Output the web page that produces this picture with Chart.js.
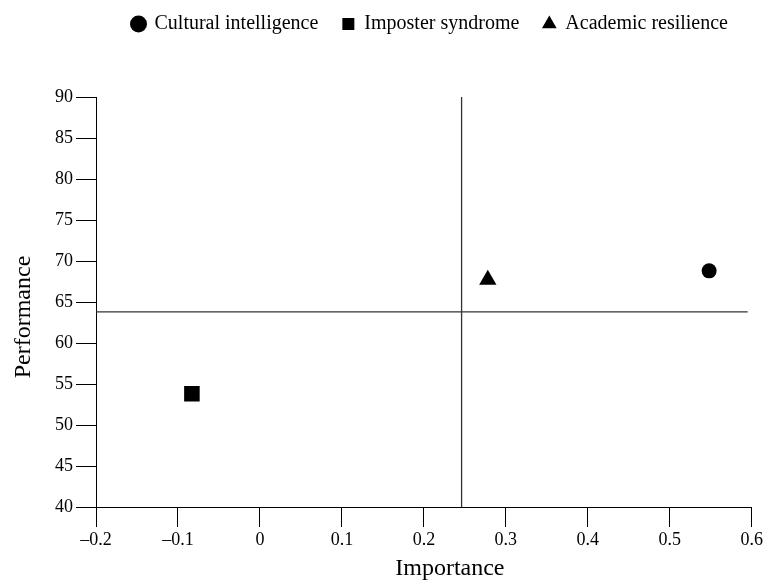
<!DOCTYPE html>
<html>
<head>
<meta charset="utf-8">
<script src="https://cdn.jsdelivr.net/npm/chart.js@4/dist/chart.umd.min.js"></script>
<style>
  html, body { margin: 0; padding: 0; background: #fff; }
  #wrap { width: 765px; height: 581px; }
</style>
</head>
<body>
<div id="wrap"><canvas id="chart"></canvas></div>
<script>
// series (importance, performance)
const seriesNames = ['Cultural intelligence', 'Imposter syndrome', 'Academic resilience'];
const importance = [0.548, -0.083, 0.278];
const performance = [68.8, 53.8, 67.7];
const markers = ['circle', 'rect', 'triangle'];
const markerSizes = [7.5, 11, 10];

// quadrant split lines
const meanImportance = 0.246;
const meanPerformance = 63.8;
const hlineEnd = 0.595;
const xTicks = [-0.2, -0.1, 0, 0.1, 0.2, 0.3, 0.4, 0.5, 0.6];
const yTicks = [40, 45, 50, 55, 60, 65, 70, 75, 80, 85, 90];
const xTitle = 'Importance';
const yTitle = 'Performance';

const FONT = "'Liberation Serif', 'DejaVu Serif', serif";

const datasets = seriesNames.map((name, i) => ({
    label: name,
    data: [{ x: importance[i], y: performance[i] }],
    pointStyle: markers[i],
    pointRadius: markerSizes[i],
    pointHoverRadius: markerSizes[i],
    backgroundColor: '#000',
    borderColor: '#000',
    borderWidth: 0,
}));

datasets.push({
    label: 'vline',
    data: [{ x: meanImportance, y: yTicks[0] }, { x: meanImportance, y: yTicks[yTicks.length - 1] }],
    showLine: true,
    pointRadius: 0,
    borderColor: '#333',
    borderWidth: 1.3,
});
datasets.push({
    label: 'hline',
    data: [{ x: xTicks[0], y: meanPerformance }, { x: hlineEnd, y: meanPerformance }],
    showLine: true,
    pointRadius: 0,
    borderColor: '#333',
    borderWidth: 1.3,
});

// push the plot down below the legend
const legendSpace = {
    id: 'legendSpace',
    beforeInit(chart) {
        const fit = chart.legend.fit;
        chart.legend.fit = function () {
            fit.bind(chart.legend)();
            this.height = 107;
        };
    }
};

// axis titles, placed a bit off-centre like the original
const axisTitles = {
    id: 'axisTitles',
    afterDraw(chart) {
        const { ctx, chartArea } = chart;
        ctx.save();
        ctx.fillStyle = '#000';
        ctx.font = '24px ' + FONT;
        ctx.textAlign = 'center';
        ctx.textBaseline = 'middle';
        ctx.fillText(xTitle, (chartArea.left + chartArea.right) / 2 + 26, 569);
        ctx.translate(24, (chartArea.top + chartArea.bottom) / 2 + 15);
        ctx.rotate(-Math.PI / 2);
        ctx.fillText(yTitle, 0, 0);
        ctx.restore();
    }
};

const fmt = v => (v < 0 ? '\u2013' + Math.abs(v) : String(v));

new Chart(document.getElementById('chart').getContext('2d'), {
    type: 'scatter',
    data: { datasets },
    options: {
        responsive: true,
        maintainAspectRatio: false,
        animation: false,
        events: [],
        layout: { padding: { top: -10, right: 13, left: 0, bottom: 0 } },
        plugins: {
            tooltip: { enabled: false },
            legend: {
                display: true,
                position: 'top',
                align: 'end',
                labels: {
                    usePointStyle: true,
                    boxHeight: 12,
                    boxWidth: 12,
                    padding: 24,
                    color: '#000',
                    font: { family: FONT, size: 20 },
                    filter: item => item.datasetIndex < seriesNames.length,
                },
            },
        },
        scales: {
            x: {
                type: 'linear',
                min: xTicks[0],
                max: xTicks[xTicks.length - 1],
                afterBuildTicks: axis => { axis.ticks = xTicks.map(v => ({ value: v })); },
                afterFit: axis => { axis.height = 74; },
                grid: { drawOnChartArea: false, drawTicks: true, tickLength: 20, color: '#000', lineWidth: 1 },
                border: { display: true, color: '#000', width: 1 },
                ticks: {
                    color: '#000',
                    padding: 2,
                    maxRotation: 0,
                    font: { family: FONT, size: 18 },
                    callback: v => fmt(Math.round(v * 10) / 10),
                },
            },
            y: {
                type: 'linear',
                min: yTicks[0],
                max: yTicks[yTicks.length - 1],
                afterBuildTicks: axis => { axis.ticks = yTicks.map(v => ({ value: v })); },
                afterFit: axis => { axis.width = 96; },
                grid: { drawOnChartArea: false, drawTicks: true, tickLength: 20, color: '#000', lineWidth: 1 },
                border: { display: true, color: '#000', width: 1 },
                ticks: {
                    color: '#000',
                    padding: 3,
                    font: { family: FONT, size: 18 },
                    callback: v => fmt(v),
                },
            },
        },
    },
    plugins: [legendSpace, axisTitles],
});
</script>
</body>
</html>
